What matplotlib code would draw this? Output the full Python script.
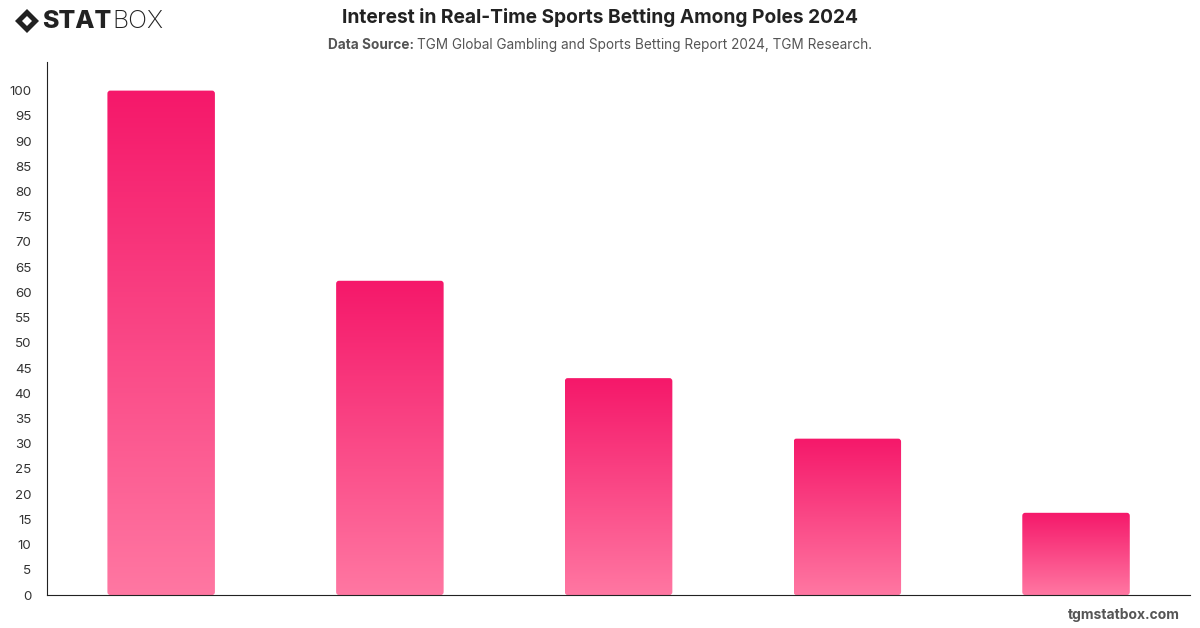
import numpy as np
import matplotlib.pyplot as plt
from matplotlib.patches import FancyBboxPatch, Polygon
from matplotlib.colors import LinearSegmentedColormap

plt.rcParams['font.family'] = ['Inter', 'DejaVu Sans']

# data (category labels are not shown in it)
categories = ["A", "B", "C", "D", "E"]
values = [100, 62.3, 43.0, 31.0, 16.3]
yticks = list(range(0, 105, 5))

top_col = "#f5186a"
bottom_col = "#ff77a2"
cmap = LinearSegmentedColormap.from_list("bar", [bottom_col, top_col])

fig = plt.figure(figsize=(12, 6.28), dpi=100)
ax = fig.add_axes([0.039, 0.0525, 0.953, 0.849])

x = np.arange(len(categories))
width = 0.47
grad = np.linspace(0, 1, 256).reshape(-1, 1)
for xi, v in zip(x, values):
    left = xi - width / 2
    patch = FancyBboxPatch((left, 0), width, v,
                           boxstyle="round,pad=0,rounding_size=0.012",
                           mutation_aspect=50, linewidth=0,
                           facecolor="none")
    ax.add_patch(patch)
    im = ax.imshow(grad, cmap=cmap, origin="lower", aspect="auto",
                   extent=[left, left + width, 0, v], zorder=2)
    im.set_clip_path(patch)

ax.set_xlim(-0.5, len(categories) - 0.5)
ax.set_ylim(0, 105.7)
ax.set_yticks(yticks)
ax.set_xticks([])
ax.tick_params(axis="y", length=0, pad=11, labelsize=9.6, labelcolor="#333333")
for lbl in ax.get_yticklabels():
    lbl.set_horizontalalignment("right")
for s in ["top", "right"]:
    ax.spines[s].set_visible(False)
ax.spines["left"].set_color("#222222")
ax.spines["bottom"].set_color("#222222")

fig.text(0.5, 0.972, "Interest in Real-Time Sports Betting Among Poles 2024",
         ha="center", va="center", fontsize=13.8, fontweight="bold", color="#222222")

# subtitle: bold prefix + regular source, centred together
r = fig.canvas.get_renderer()
src_b = fig.text(0, 0.928, "Data Source: ", ha="left", va="center",
                 fontsize=9.8, fontweight="bold", color="#555555")
src_r = fig.text(0, 0.928, "TGM Global Gambling and Sports Betting Report 2024, TGM Research.",
                 ha="left", va="center", fontsize=9.8, color="#555555")
wb = src_b.get_window_extent(r).width
wr = src_r.get_window_extent(r).width
x0 = (1200 - wb - wr) / 2
src_b.set_x(x0 / 1200)
src_r.set_x((x0 + wb) / 1200)

# logo
dx, dy = 27, 607
diamond = Polygon([[dx - 12, dy], [dx, dy + 12], [dx + 12, dy], [dx, dy - 12]],
                  closed=True, facecolor="#222222", transform=None)
fig.patches.append(diamond)
inner = Polygon([[dx - 5, dy], [dx, dy + 5], [dx + 5, dy], [dx, dy - 5]],
                closed=True, facecolor="white", transform=None)
fig.patches.append(inner)
stat = fig.text(42 / 1200, 0.966, "STAT", ha="left", va="center", fontsize=18,
                fontweight="heavy", color="#222222")
ws = stat.get_window_extent(r).width
fig.text((42 + ws + 1) / 1200, 0.966, "BOX", ha="left", va="center", fontsize=18,
         fontweight="light", color="#222222")

fig.text(0.983, 0.02, "tgmstatbox.com", ha="right", va="center",
         fontsize=10, fontweight="bold", color="#555555")

fig.savefig("out.png", dpi=100)
